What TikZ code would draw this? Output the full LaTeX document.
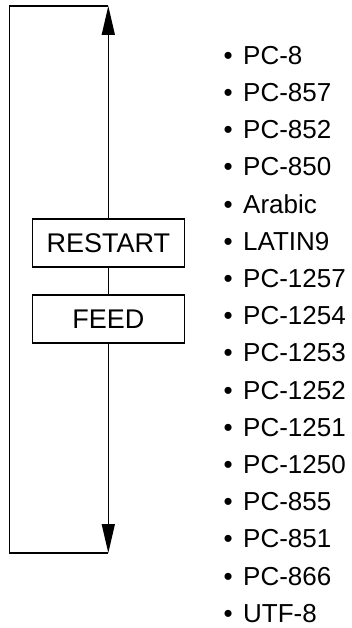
\documentclass[tikz,border=0pt]{standalone}
\usepackage{fontspec}
\setmainfont{Liberation Sans}
\usetikzlibrary{arrows.meta}
\begin{document}
\begin{tikzpicture}[x=1pt,y=-1pt,
  line/.style={line width=1.6pt},
  keybox/.style={draw,line width=1.6pt,minimum width=152pt,minimum height=48pt,inner sep=0pt,font=\fontsize{27}{31}\selectfont},
  item/.style={anchor=base west,inner sep=0pt,font=\fontsize{26}{30}\selectfont},
  tip/.style={-{Triangle[length=29pt,width=13pt]}}]
\useasboundingbox (0,0) rectangle (351,628);
\node[keybox] (restart) at (108.3,243) {RESTART};
\node[keybox] (feed) at (108.3,318.8) {FEED};
\coordinate (top) at (108.3,6);
\coordinate (tl) at (9.3,6);
\coordinate (bl) at (9.3,553);
\coordinate (bot) at (108.3,553);
\draw[line] (top) -- (tl) -- (bl) -- (bot);
\draw[line,tip] (restart.north) -- (top);
\draw[line] (restart.south) -- (feed.north);
\draw[line,tip] (feed.south) -- (bot);
\foreach \t [count=\i from 0] in {PC-8,PC-857,PC-852,PC-850,Arabic,LATIN9,PC-1257,PC-1254,PC-1253,PC-1252,PC-1251,PC-1250,PC-855,PC-851,PC-866,UTF-8}
  \node[item] (it\i) at (223.5,64.3+37.2*\i) {•\hspace{10.4pt}\t};
\end{tikzpicture}
\end{document}
